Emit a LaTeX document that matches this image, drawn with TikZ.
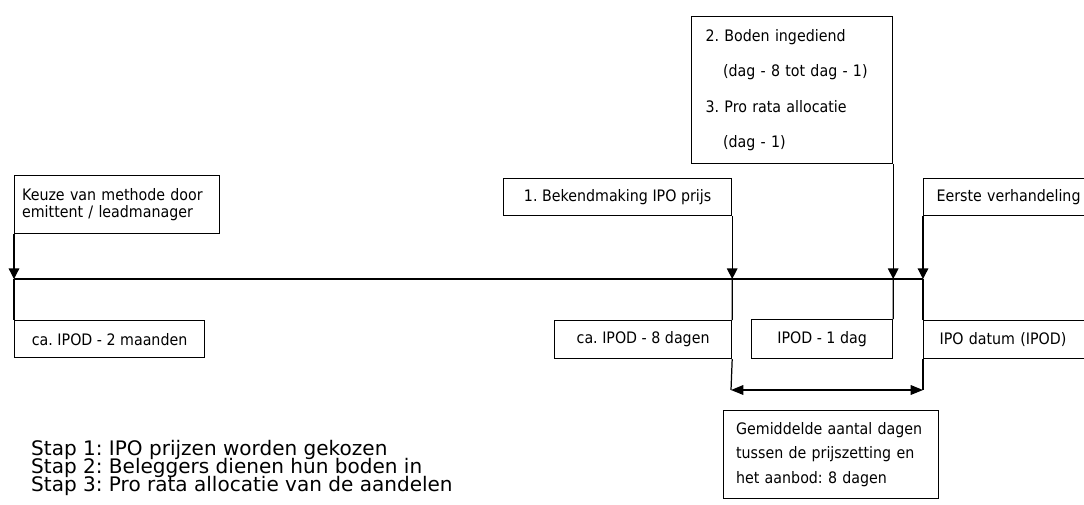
\documentclass[tikz,border=0pt]{standalone}
\usepackage{fontspec}
\setmainfont{DejaVu Sans}
\newfontfamily\boxfont[FakeStretch=0.9]{DejaVu Sans}
\usetikzlibrary{arrows.meta}
\frenchspacing
\begin{document}
\begin{tikzpicture}[x=0.02cm, y=-0.02cm,
  kader/.style={draw, line width=0.7pt, inner sep=0pt, anchor=north west,
    font=\boxfont\fontsize{9}{9.8}\selectfont},
  lijn/.style={line width=0.7pt},
  pijl/.style={line width=0.7pt, -{Triangle[width=6pt,length=6pt]}},
  dubbel/.style={line width=0.7pt, {Triangle[width=5.5pt,length=7pt]}-{Triangle[width=5.5pt,length=7pt]}},
  stap/.style={anchor=base west, font=\fontsize{11.4}{10.2}\selectfont}]
\useasboundingbox (0,0) rectangle (1084,504);
\clip (0,0) rectangle (1084,504);
\node[kader, minimum width=4.1cm, minimum height=1.16cm, text width=3.8cm, align=left] (keuze) at (14,175) {Keuze van methode door\\emittent / leadmanager};
\node[kader, minimum width=3.8cm, minimum height=0.74cm] (ipod2m) at (14,320) {ca. IPOD - 2 maanden};
\node[kader, minimum width=4.56cm, minimum height=0.74cm] (bekend) at (503,178) {1. Bekendmaking IPO prijs};
\node[kader, minimum width=3.54cm, minimum height=0.76cm] (ipod8d) at (554,320) {ca. IPOD - 8 dagen};
\node[kader, minimum width=4.02cm, minimum height=2.94cm, text width=3.46cm, align=left,
  font=\boxfont\fontsize{9}{20}\selectfont] (boden) at (691,16) {2. Boden ingediend\\\hspace*{1.1em}(dag - 8 tot dag - 1)\\3. Pro rata allocatie\\\hspace*{1.1em}(dag - 1)};
\node[kader, minimum width=2.82cm, minimum height=0.78cm] (ipod1d) at (751,319) {IPOD - 1 dag};
\node[kader, minimum width=3.6cm, minimum height=0.74cm, text width=3.08cm, align=left] (eerste) at (923,178) {Eerste verhandeling};
\node[kader, minimum width=3.6cm, minimum height=0.76cm, text width=2.96cm, align=left] (ipodd) at (923,320) {IPO datum (IPOD)};
\node[kader, minimum width=4.3cm, minimum height=1.76cm, text width=3.8cm, align=left,
  font=\boxfont\fontsize{9}{14.2}\selectfont] (gemid) at (723,410) {Gemiddelde aantal dagen\\tussen de prijszetting en\\het aanbod: 8 dagen};
\coordinate (t0) at (14,279);
\coordinate (t1) at (923,279);
\coordinate (d0) at (731,390);
\coordinate (d1) at (923,390);
\draw[lijn] (t0) -- (t1);
\draw[pijl] (keuze.south west) -- (t0);
\draw[lijn] (t0) -- (ipod2m.north west);
\draw[pijl] (bekend.south east) -- (bekend.south east |- t0);
\draw[lijn] (bekend.south east |- t0) -- (ipod8d.north east);
\draw[pijl] (boden.south east) -- (boden.south east |- t0);
\draw[lijn] (boden.south east |- t0) -- (ipod1d.north east);
\draw[pijl] (eerste.south west) -- (t1);
\draw[lijn] (t1) -- (ipodd.north west);
\draw[lijn] (ipod8d.south east) -- (d0);
\draw[lijn] (ipodd.south west) -- (d1);
\draw[dubbel] (d0) -- (d1);
\node[stap] (stap1) at (25,455) {Stap 1: IPO prijzen worden gekozen};
\node[stap] (stap2) at (25,473) {Stap 2: Beleggers dienen hun boden in};
\node[stap] (stap3) at (25,491) {Stap 3: Pro rata allocatie van de aandelen};
\end{tikzpicture}
\end{document}
